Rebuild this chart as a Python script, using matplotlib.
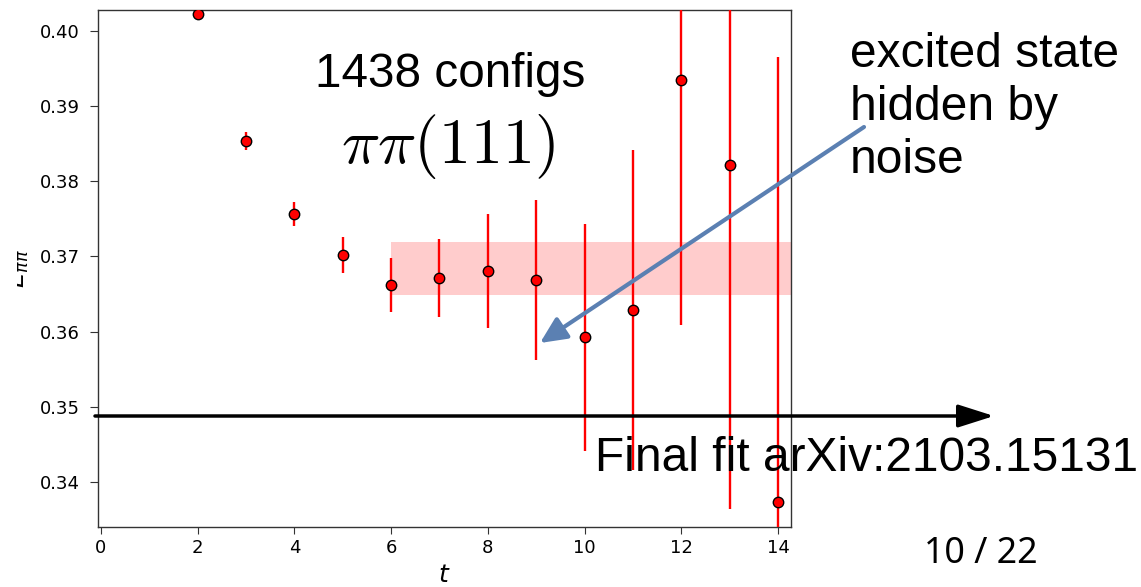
import matplotlib
matplotlib.use("Agg")
import matplotlib.pyplot as plt
from matplotlib.patches import FancyArrowPatch, Rectangle

# ---- data ----
t_vals = [2, 3, 4, 5, 6, 7, 8, 9, 10, 11, 12, 13, 14]
e_vals = [0.40226, 0.38537, 0.37566, 0.37020, 0.36621, 0.36714, 0.36807,
          0.36688, 0.35923, 0.36288, 0.39348, 0.38217, 0.33734]
e_errs = [0.0004, 0.0012, 0.0016, 0.0024, 0.0036, 0.0052, 0.0076,
          0.0106, 0.0151, 0.0213, 0.0326, 0.0458, 0.0592]
band_t = [6, 14.4]
band_lo = 0.36488
band_hi = 0.37193
x_ticks = [0, 2, 4, 6, 8, 10, 12, 14]
y_ticks = [0.34, 0.35, 0.36, 0.37, 0.38, 0.39, 0.40]

W, H = 1141, 587
fig = plt.figure(figsize=(W / 100, H / 100), dpi=100)
ax = fig.add_axes([98 / W, 1 - 527 / H, (791 - 98) / W, (527 - 10) / H])

ax.fill_between(band_t, [band_lo] * 2, [band_hi] * 2, color="red", alpha=0.2,
                linewidth=0, zorder=1)
ax.errorbar(t_vals, e_vals, yerr=e_errs, fmt="o", color="red", ecolor="red",
            elinewidth=1.7, markersize=7.5, markerfacecolor="red",
            markeredgecolor="black", markeredgewidth=1.0, capsize=0, zorder=3)

ax.set_xlim(-0.062, 14.27)
ax.set_ylim(0.33401, 0.40279)
ax.set_xticks(x_ticks)
ax.set_yticks(y_ticks)
ax.set_yticklabels([f"{v:.2f}" for v in y_ticks])
ax.tick_params(labelsize=13, color="#333333", length=5)
ax.tick_params(axis="y", length=6, pad=7)
for s in ax.spines.values():
    s.set_color("#333333")
    s.set_linewidth(1.0)

ax.set_xlabel("$t$", fontsize=18)
ax.xaxis.set_label_coords(0.5, -0.07)
ax.set_ylabel(r"$E_{\pi\pi}$", fontsize=18)
ax.yaxis.set_label_coords((31 - 98) / (791 - 98), 0.5)

# white mask for clipped left margin of the slide image
fig.patches.append(Rectangle((0, 0), 16.5 / W, 1, transform=fig.transFigure,
                             facecolor="white", edgecolor="none", zorder=10))

def fx(px):
    return px / W

def fy(py):
    return 1 - py / H

slide_font = "Liberation Sans"
fig.text(fx(450), fy(87), "1438 configs", fontsize=34.3, family=slide_font,
         ha="center", va="baseline")
plt.rcParams["mathtext.fontset"] = "cm"
fig.text(fx(448), fy(163), r"$\pi\pi(111)$", fontsize=46,
         ha="center", va="baseline")
for line, base in [("excited state", 67), ("hidden by", 120), ("noise", 173)]:
    fig.text(fx(850), fy(base), line, fontsize=34.5, family=slide_font,
             ha="left", va="baseline")
fig.text(fx(595), fy(471), "Final fit arXiv:2103.15131", fontsize=34.5,
         family=slide_font, ha="left", va="baseline")
fig.text(fx(924), fy(563), "10 / 22", fontsize=25.7, family="Noto Sans",
         ha="left", va="baseline")

# black arrow (final fit)
fig.patches.append(FancyArrowPatch((fx(95), fy(416)), (fx(994), fy(416)),
                                   transform=fig.transFigure,
                                   arrowstyle="-|>,head_length=22,head_width=7",
                                   mutation_scale=1, lw=2.5, color="black",
                                   shrinkA=0, shrinkB=0, zorder=6))
# blue arrow
fig.patches.append(FancyArrowPatch((fx(864), fy(127)), (fx(540), fy(343)),
                                   transform=fig.transFigure,
                                   arrowstyle="-|>,head_length=16,head_width=7.5",
                                   mutation_scale=1, lw=3, color="#5b80b2",
                                   shrinkA=0, shrinkB=0, zorder=6))

fig.savefig("out.png", dpi=100)
